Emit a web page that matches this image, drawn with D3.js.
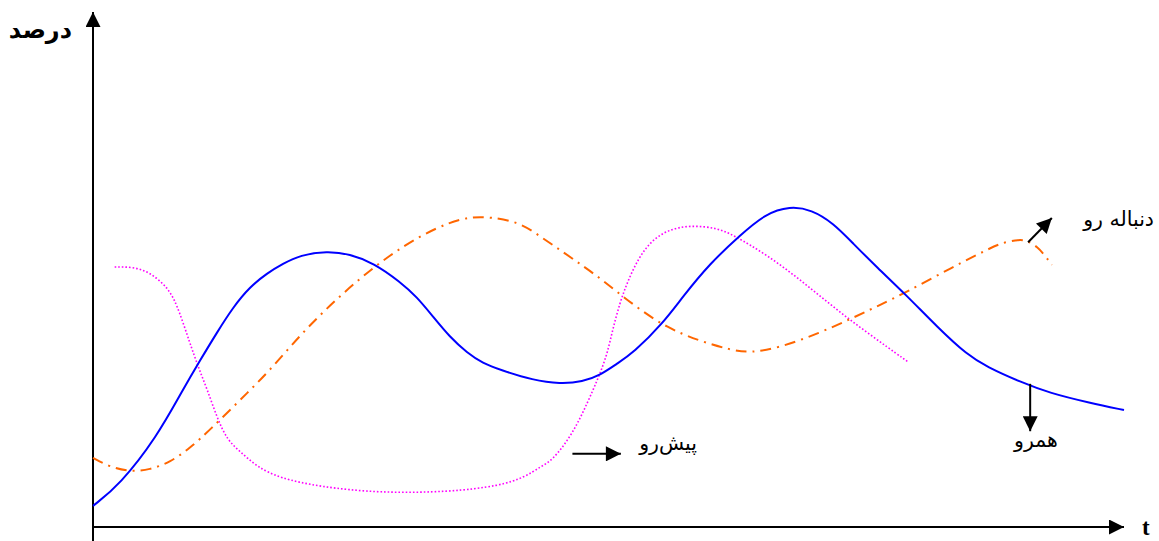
<!DOCTYPE html>
<html>
<head>
<meta charset="utf-8">
<script src="https://cdn.jsdelivr.net/npm/d3@7"></script>
<style>
  body { margin: 0; background: #fff; }
  svg { display: block; }
</style>
</head>
<body>
<svg id="chart" width="1159" height="541"></svg>
<script>
// time axis goes 0..100, percent axis 0..100
const blue_t = [0, 2.6, 6.2, 8.7, 10.4, 12.0, 13.6, 15.2, 16.9, 18.4, 20.1, 22.7, 24.9, 27.2, 29.8, 31.4, 33.0, 34.6, 36.3, 37.8, 39.5, 42.7, 45.3, 47.5, 49.2, 50.8, 52.4, 55.3, 57.2, 59.8, 62.8, 65.2, 67.6, 69.7, 71.8, 73.7, 76.0, 78.9, 81.9, 84.8, 86.7, 89.9, 92.8, 96.7, 100]
const blue_v = [4.1, 8.2, 17.5, 26.6, 32.4, 37.7, 42.7, 46.6, 49.3, 51.1, 52.8, 53.6, 53.0, 51.3, 47.6, 44.7, 40.8, 36.9, 33.8, 31.8, 30.5, 28.5, 27.8, 28.2, 29.5, 31.7, 33.8, 39.6, 44.7, 51.1, 56.7, 60.8, 62.3, 61.6, 59.0, 55.1, 50.5, 45.0, 38.8, 33.4, 31.1, 28.2, 26.0, 24.1, 22.7]

const orange_t = [0, 1.6, 3.6, 5.5, 7.5, 9.4, 11.3, 14.3, 17.2, 20.1, 23.0, 25.9, 28.8, 31.7, 34.6, 36.6, 38.5, 41.4, 43.6, 45.6, 47.5, 49.2, 52.4, 55.7, 58.9, 61.8, 63.7, 66.6, 70.5, 73.7, 76.3, 78.9, 83.4, 86.7, 88.0, 89.9, 90.7, 91.6, 92.3, 93.0]
const orange_v = [13.4, 11.7, 10.7, 11.1, 12.6, 15.3, 18.8, 24.7, 30.5, 37.3, 43.1, 48.3, 52.8, 56.5, 59.2, 60.2, 60.2, 59.2, 56.1, 53.4, 50.7, 48.3, 43.1, 38.6, 36.1, 34.4, 33.8, 34.8, 37.7, 40.6, 43.1, 45.6, 50.5, 53.8, 55.1, 55.9, 55.5, 54.4, 52.8, 50.9]

const magenta_t = [2.1, 3.9, 5.5, 7.2, 8.1, 9.4, 10.2, 11.1, 12.0, 13.0, 14.3, 15.9, 18.1, 22.0, 27.8, 34.6, 39.5, 41.9, 43.4, 44.6, 46.3, 47.5, 48.5, 49.2, 49.9, 50.4, 51.1, 51.8, 52.8, 54.0, 55.7, 57.9, 60.5, 62.1, 65.4, 68.6, 71.8, 75.1, 79.1]
const magenta_v = [50.5, 50.5, 49.5, 46.6, 43.5, 35.7, 31.1, 26.6, 21.4, 16.9, 14.6, 11.7, 9.5, 7.8, 6.6, 6.8, 8.0, 9.7, 11.7, 13.0, 17.5, 22.1, 26.6, 29.9, 33.8, 38.3, 43.5, 47.4, 51.8, 55.3, 57.7, 58.6, 58.1, 56.7, 52.8, 48.0, 42.7, 37.7, 32.0]

// label text and arrow anchor points [t, v] -> [t, v]
const labels = ["دنباله رو", "همرو", "پیش‌رو"]
const label_from = [[90.7, 55.3], [90.9, 27.8], [46.5, 14.2]]
const label_to = [[93.0, 60.0], [90.9, 18.6], [51.2, 14.2]]

const yTitle = "درصد"
const xTitle = "t"

var svg = d3.select("#chart")

var x = d3.scaleLinear().domain([0, 100]).range([93, 1124]),
	y = d3.scaleLinear().domain([0, 100]).range([527, 12])

var defs = svg.append("defs")
defs.append("marker")
	.attr("id", "head")
	.attr("viewBox", "0 0 10 10")
	.attr("refX", 10).attr("refY", 5)
	.attr("markerWidth", 16).attr("markerHeight", 15)
	.attr("markerUnits", "userSpaceOnUse")
	.attr("orient", "auto")
	.append("path").attr("d", "M0,0 L10,5 L0,10 Z").attr("fill", "black")

// axes
svg.append("line")
	.attr("x1", x(0)).attr("y1", 541).attr("x2", x(0)).attr("y2", y(100))
	.attr("stroke", "black").attr("stroke-width", 2)
	.attr("marker-end", "url(#head)")
svg.append("line")
	.attr("x1", x(0)).attr("y1", y(0)).attr("x2", x(100)).attr("y2", y(0))
	.attr("stroke", "black").attr("stroke-width", 2)
	.attr("marker-end", "url(#head)")

svg.append("text")
	.attr("x", 72).attr("y", 38)
	.attr("text-anchor", "end")
	.attr("font-family", "DejaVu Sans")
	.attr("font-size", "24px")
	.attr("font-weight", "bold")
	.text(yTitle)

svg.append("text")
	.attr("x", 1142).attr("y", 535)
	.attr("font-family", "Liberation Serif")
	.attr("font-size", "23px")
	.attr("font-weight", "bold")
	.text(xTitle)

// B-spline smooths out the reading noise in the points
var line = d3.line()
	.x(function(d) { return x(d[0]) })
	.y(function(d) { return y(d[1]) })
	.curve(d3.curveBasis)

svg.append("path")
	.datum(d3.zip(magenta_t, magenta_v))
	.attr("d", line)
	.attr("fill", "none")
	.attr("stroke", "#FF00FF")
	.attr("stroke-width", 1.6)
	.attr("stroke-dasharray", "1.6,2")

svg.append("path")
	.datum(d3.zip(orange_t, orange_v))
	.attr("d", line)
	.attr("fill", "none")
	.attr("stroke", "#FF6600")
	.attr("stroke-width", 2)
	.attr("stroke-dasharray", "11,6,2,6")

svg.append("path")
	.datum(d3.zip(blue_t, blue_v))
	.attr("d", line)
	.attr("fill", "none")
	.attr("stroke", "#0000FF")
	.attr("stroke-width", 2)

// annotations
for (let i = 0; i < labels.length; i++) {
	svg.append("line")
		.attr("x1", x(label_from[i][0])).attr("y1", y(label_from[i][1]))
		.attr("x2", x(label_to[i][0])).attr("y2", y(label_to[i][1]))
		.attr("stroke", "black").attr("stroke-width", 2)
		.attr("marker-end", "url(#head)")
}

svg.append("text")
	.attr("x", 1154).attr("y", 226)
	.attr("text-anchor", "end")
	.attr("font-family", "DejaVu Sans")
	.attr("font-size", "20.5px")
	.text(labels[0])

svg.append("text")
	.attr("x", 1036).attr("y", 447)
	.attr("text-anchor", "middle")
	.attr("font-family", "DejaVu Sans")
	.attr("font-size", "20.5px")
	.text(labels[1])

svg.append("text")
	.attr("x", 697).attr("y", 450)
	.attr("text-anchor", "end")
	.attr("font-family", "DejaVu Sans")
	.attr("font-size", "20.5px")
	.text(labels[2])
</script>
</body>
</html>
